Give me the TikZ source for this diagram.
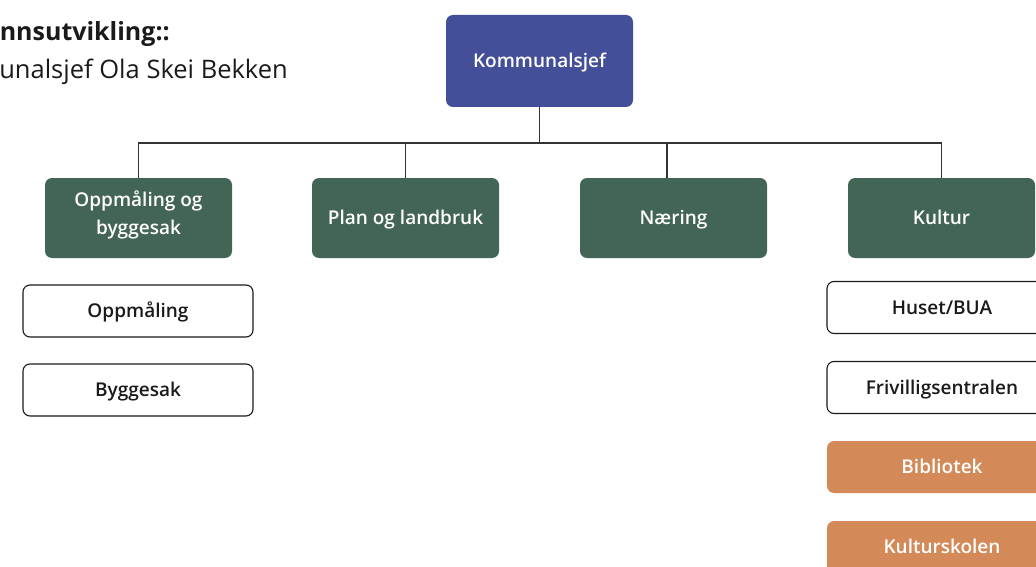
\documentclass[tikz,border=0pt]{standalone}
\usepackage{fontspec}
\setmainfont{Open Sans}
\IfFontExistsTF{Open Sans SemiBold}{\newfontfamily\semib{Open Sans SemiBold}}{%
  \IfFontExistsTF{Open Sans Semibold}{\newfontfamily\semib{Open Sans Semibold}}{%
    \newcommand\semib{\bfseries}}}
\definecolor{blueC}{RGB}{67,79,152}
\definecolor{greenC}{RGB}{67,101,85}
\definecolor{orangeC}{RGB}{212,138,88}
\definecolor{lineC}{RGB}{51,51,51}
\definecolor{txtC}{RGB}{26,26,26}
\tikzset{
  box/.style={rounded corners=7pt, minimum width=187pt, align=center, inner sep=0pt,
    text height=13.6pt, text depth=0pt,
    font=\semib\fontsize{19}{28}\selectfont},
  topbox/.style={box, fill=blueC, text=white, minimum height=92pt},
  greenbox/.style={box, fill=greenC, text=white, minimum height=80pt},
  whitebox/.style={box, draw=txtC, line width=1.1pt, fill=white, text=txtC, minimum width=230pt, minimum height=52pt},
  orangebox/.style={box, fill=orangeC, text=white, minimum width=230pt, minimum height=52pt},
  conn/.style={draw=lineC, line width=1.3pt},
}
\begin{document}
\begin{tikzpicture}[x=1pt,y=-1pt]
\useasboundingbox (0,0) rectangle (1036,567);
\node[anchor=base east, text=txtC, font=\bfseries\fontsize{25}{30}\selectfont, inner sep=0pt] (h1) at (170,41) {Samfunnsutvikling::};
\node[anchor=base east, text=txtC, font=\fontsize{25.5}{30}\selectfont, inner sep=0pt] (h2) at (288,79) {Kommunalsjef Ola Skei Bekken};

\node[topbox] (k) at (539.5,61) {Kommunalsjef};
\node[greenbox] (g1) at (138.5,218) {};
\node[text=white, font=\semib\fontsize{19}{28}\selectfont, align=center, inner sep=0pt, anchor=base] (g1t) at (138.5,234) {Oppmåling og\\byggesak};
\node[greenbox] (g2) at (405.5,218) {Plan og landbruk};
\node[greenbox] (g3) at (673.5,218) {Næring};
\node[greenbox] (g4) at (941.5,218) {Kultur};

\node[whitebox] (w1) at (138,311) {Oppmåling};
\node[whitebox] (w2) at (138,390) {Byggesak};
\node[whitebox] (w3) at (942,307.5) {Huset/BUA};
\node[whitebox] (w4) at (942,387.5) {Frivilligsentralen};
\node[orangebox] (o1) at (942,467) {Bibliotek};
\node[orangebox] (o2) at (942,547) {Kulturskolen};

\coordinate (bus) at (0,143);
\draw[conn] (g1.north) |- (bus -| g4.north) -- (g4.north);
\draw[conn] (k.south) -- (k.south |- bus);
\draw[conn] (g2.north) -- (g2.north |- bus);
\draw[conn] ([xshift=-6.5pt]g3.north) -- ([xshift=-6.5pt]g3.north |- bus);
\end{tikzpicture}
\end{document}
